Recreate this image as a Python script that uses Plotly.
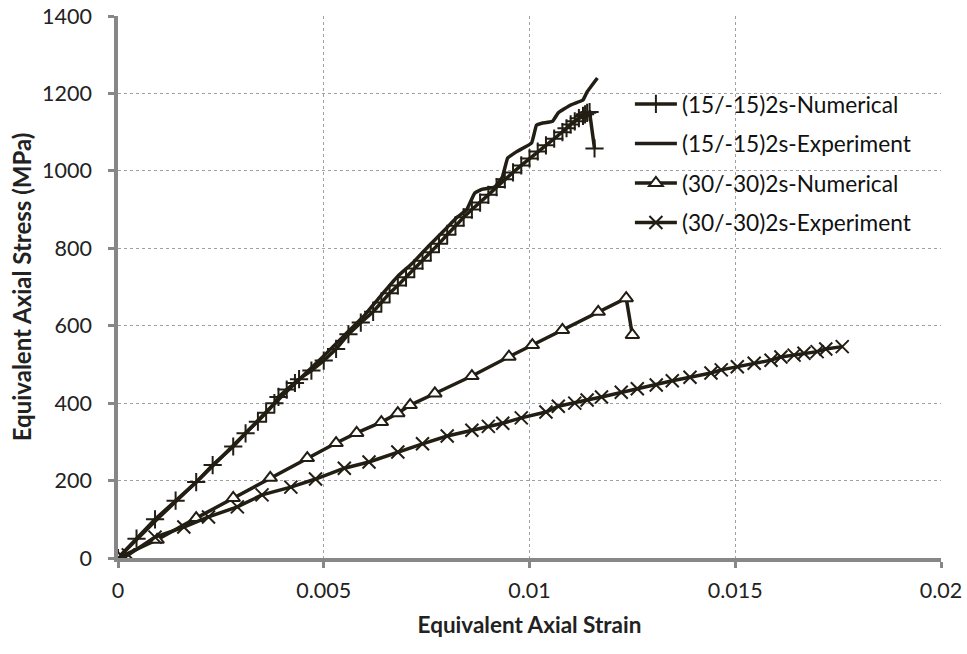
import plotly.graph_objects as go

# (15/-15)2s - Numerical
num15_strain = [0, 0.00045, 0.0009, 0.0014, 0.0019, 0.0023, 0.0028, 0.0031, 0.0034, 0.0036,
                0.0038, 0.0039, 0.0041, 0.0043, 0.0044, 0.0047, 0.0050, 0.0053, 0.0056, 0.0059,
                0.0062, 0.0064, 0.0066, 0.0068, 0.0070, 0.0072, 0.0074, 0.0076, 0.0078, 0.0080,
                0.0082, 0.0084, 0.0086, 0.0088, 0.0090, 0.0092, 0.0094, 0.0096, 0.0098, 0.0100,
                0.0102, 0.0104, 0.0106, 0.0108, 0.0109, 0.0110, 0.0111, 0.0112, 0.0113, 0.01135,
                0.0114, 0.01146, 0.01158]
num15_stress = [0, 50, 100, 148, 196, 240, 288, 322, 352, 375,
                400, 416, 435, 452, 462, 484, 510, 540, 578, 608,
                636, 660, 684, 704, 725, 748, 768, 790, 812, 835,
                858, 880, 900, 918, 938, 958, 978, 996, 1014, 1032,
                1050, 1066, 1083, 1100, 1110, 1120, 1128, 1136, 1142, 1146,
                1150, 1152, 1058]

# (15/-15)2s - Experiment
exp15_strain = [0, 0.001, 0.002, 0.003, 0.004, 0.005, 0.0055, 0.006, 0.00636, 0.0068,
                0.00716, 0.00757, 0.00798, 0.00825, 0.00847, 0.00867, 0.00886, 0.00915, 0.00934, 0.00947,
                0.00968, 0.01005, 0.01017, 0.0103, 0.01056, 0.0107, 0.0110, 0.0113, 0.0114, 0.01165]
exp15_stress = [0, 105, 206, 312, 420, 522, 575, 628, 674, 728,
                762, 808, 852, 881, 899, 943, 953, 958, 984, 1033,
                1049, 1072, 1118, 1123, 1128, 1150, 1170, 1183, 1204, 1240]

# (30/-30)2s - Numerical
num30_strain = [0, 0.00095, 0.0019, 0.0028, 0.0037, 0.0046, 0.0053, 0.0058, 0.0064, 0.0068,
                0.0071, 0.0077, 0.0086, 0.0095, 0.01007, 0.0108, 0.01167, 0.01235, 0.0125]
num30_stress = [0, 47, 103, 155, 207, 258, 297, 323, 351, 374,
                395, 425, 470, 520, 550, 589, 636, 671, 576]

# (30/-30)2s - Experiment
exp30_strain = [0, 0.00025, 0.0009, 0.0016, 0.0022, 0.0029, 0.0035, 0.0042, 0.0048, 0.0055,
                0.0061, 0.0068, 0.0074, 0.0080, 0.0086, 0.0090, 0.00935, 0.0098, 0.0104, 0.0107,
                0.0111, 0.0114, 0.01175, 0.01223, 0.01262, 0.01308, 0.01347, 0.0139, 0.01441, 0.01466,
                0.01505, 0.01546, 0.01587, 0.01611, 0.01643, 0.01667, 0.01699, 0.0172, 0.0176]
exp30_stress = [0, 8, 54, 80, 106, 132, 163, 183, 204, 232,
                248, 274, 295, 315, 330, 340, 348, 362, 377, 392,
                400, 408, 416, 428, 437, 447, 458, 467, 478, 486,
                494, 503, 511, 519, 524, 529, 533, 540, 546]

x_ticks = [0, 0.005, 0.01, 0.015, 0.02]
x_tick_text = ["0", "0.005", "0.01", "0.015", "0.02"]
y_ticks = [0, 200, 400, 600, 800, 1000, 1200, 1400]

LINE = "#221e14"
FONT = "Lato"

fig = go.Figure()
fig.add_trace(go.Scatter(
    x=num15_strain, y=num15_stress, name="(15/-15)2s-Numerical", mode="lines+markers",
    line=dict(color=LINE, width=3.5),
    marker=dict(symbol="cross-thin", size=13, line=dict(color=LINE, width=2)),
    legendgroup="a"))
fig.add_trace(go.Scatter(
    x=exp15_strain, y=exp15_stress, name="(15/-15)2s-Experiment", mode="lines",
    line=dict(color=LINE, width=3.5, shape="spline", smoothing=0.3),
    legendgroup="b"))
fig.add_trace(go.Scatter(
    x=num30_strain, y=num30_stress, name="(30/-30)2s-Numerical", mode="lines+markers",
    line=dict(color=LINE, width=3.5),
    marker=dict(symbol="triangle-up", size=12, color="white", line=dict(color=LINE, width=2)),
    legendgroup="c"))
fig.add_trace(go.Scatter(
    x=exp30_strain, y=exp30_stress, name="(30/-30)2s-Experiment", mode="lines+markers",
    line=dict(color=LINE, width=3.5),
    marker=dict(symbol="x-thin", size=13, line=dict(color=LINE, width=2)),
    legendgroup="d"))

fig.update_layout(
    width=967, height=654,
    margin=dict(l=118, r=26, t=16, b=96),
    plot_bgcolor="white", paper_bgcolor="white",
    font=dict(family=FONT, size=21, color="#222222"),
    showlegend=True,
    legend=dict(x=0.622, y=0.877, xanchor="left", yanchor="top",
                font=dict(family=FONT, size=22.7, color="#111111"),
                itemwidth=42,
                bgcolor="rgba(0,0,0,0)", tracegroupgap=7, traceorder="grouped"),
)
fig.update_xaxes(
    range=[0, 0.02], tickvals=x_ticks, ticktext=x_tick_text, automargin=False,
    ticklabeloverflow="allow",
    showline=True, linecolor="#878787", linewidth=3.5,
    ticks="outside", ticklen=6, tickwidth=2.5, tickcolor="#878787",
    showgrid=True, gridcolor="#a0a0a0", gridwidth=1, griddash="dot",
    zeroline=False, ticklabelstandoff=4,
    tickfont=dict(family=FONT, size=21.5, color="#222222"),
    title=dict(text="<b>Equivalent Axial Strain</b>", font=dict(family=FONT, size=22.5), standoff=17),
)
fig.update_yaxes(
    range=[0, 1400], tickvals=y_ticks, automargin=False,
    ticklabeloverflow="allow",
    showline=True, linecolor="#878787", linewidth=3.5,
    ticks="outside", ticklen=6, tickwidth=2.5, tickcolor="#878787",
    showgrid=True, gridcolor="#a0a0a0", gridwidth=1, griddash="dot",
    zeroline=False, ticklabelstandoff=12,
    tickfont=dict(family=FONT, size=21.5, color="#222222"),
    title=dict(text="<b>Equivalent Axial Stress (MPa)</b>", font=dict(family=FONT, size=24), standoff=5),
)

# remove the page's default 8px body margin so the figure fills the window exactly
fig.write_html("out.html", config={"displayModeBar": False},
               post_script="document.body.style.margin='0px';")
